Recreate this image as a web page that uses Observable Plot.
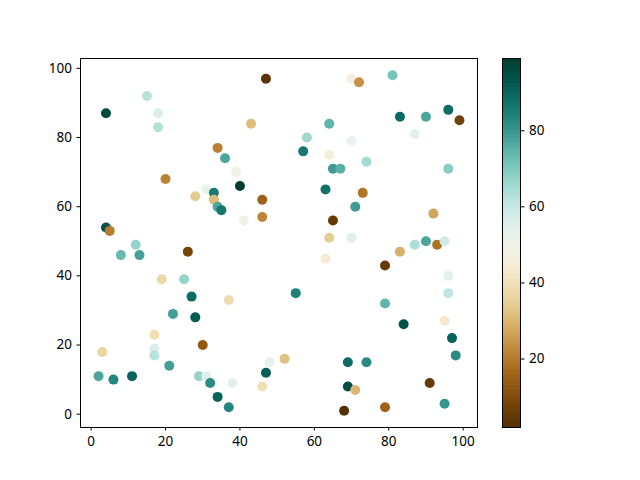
<!DOCTYPE html>
<html><head><meta charset="utf-8">
<script src="https://cdn.jsdelivr.net/npm/d3@7"></script>
<script src="https://cdn.jsdelivr.net/npm/@observablehq/plot@0.6"></script>
<style>
body{margin:0;background:#fff;}
#wrap{position:relative;width:640px;height:480px;}
#wrap svg{position:absolute;left:0;top:0;}
</style></head><body><div id="wrap"></div>
<script>
const xs=[4,15,18,18,47,43,34,36,39,20,40,31,33,28,33,34,35,46,46,41,4,5,12,8,13,26,19,25,27,37,22,28,17,17,17,30,21,2,6,11,3,29,31,32,34,37,38,46,47,48,52,55,70,72,81,64,58,57,70,64,65,67,74,83,90,96,99,87,96,63,73,71,65,64,63,70,79,83,87,90,93,95,92,96,96,79,84,95,97,98,69,74,69,71,68,79,91,95];
const ys=[87,92,87,83,97,84,77,74,70,68,66,65,64,63,62,60,59,62,57,56,54,53,49,46,46,47,39,39,34,33,29,28,23,19,17,20,14,11,10,11,18,11,11,9,5,2,9,8,12,15,16,35,97,96,98,84,80,76,79,75,71,71,73,86,86,88,85,81,71,65,64,60,56,51,45,51,43,47,49,50,49,50,58,40,35,32,26,27,22,17,15,15,8,7,1,2,9,3];
const cs=[96,62,56,63,3,31,21,77,50,21,99,52,85,34,31,77,86,15,22,49,94,20,67,73,78,8,37,67,88,38,78,92,39,56,62,13,78,77,83,90,36,67,54,82,90,83,54,39,91,53,32,84,46,24,71,74,66,86,52,46,79,75,65,89,77,88,7,54,69,87,19,79,5,34,44,54,5,29,64,77,18,58,27,53,61,74,94,43,90,82,88,82,95,30,2,15,5,80];
const xTicks=[0,20,40,60,80,100];
const yTicks=[0,20,40,60,80,100];
const cTicks=[20,40,60,80];

const points=xs.map((x,i)=>({x,y:ys[i],c:cs[i]}));
const pad=(e)=>{const m=(e[1]-e[0])*0.05;return [e[0]-m,e[1]+m];};
const xDomain=pad(d3.extent(xs)), yDomain=pad(d3.extent(ys));
const cDomain=d3.extent(cs);
const font='"Noto Sans", "DejaVu Sans", sans-serif';
const M={top:58,bottom:53};

const main=Plot.plot({
  width:640,height:480,marginLeft:80,marginRight:163,marginTop:M.top,marginBottom:M.bottom,
  style:{fontFamily:font,fontSize:"13.5px",background:"transparent",color:"#000"},
  x:{domain:xDomain,ticks:xTicks,tickSize:3.5,tickPadding:5,label:null,tickFormat:d=>String(d)},
  y:{domain:yDomain,ticks:yTicks,tickSize:3.5,tickPadding:5,label:null,tickFormat:d=>String(d)},
  color:{type:"linear",scheme:"BrBG",domain:cDomain},
  marks:[
    Plot.dot(points,{x:"x",y:"y",fill:"c",r:5,stroke:"none"}),
    Plot.frame({stroke:"#000",strokeWidth:1})
  ]
});

const steps=d3.range(300).map(i=>cDomain[0]+(cDomain[1]-cDomain[0])*i/300);
const stepH=(cDomain[1]-cDomain[0])/300;
const bar=Plot.plot({
  width:640,height:480,marginLeft:502,marginRight:120,marginTop:M.top,marginBottom:M.bottom,
  style:{fontFamily:font,fontSize:"13.5px",background:"transparent",color:"#000"},
  x:{domain:[0,1],axis:null},
  y:{domain:cDomain,axis:"right",ticks:cTicks,tickSize:3.5,tickPadding:5,label:null,tickFormat:d=>String(d)},
  color:{type:"linear",scheme:"BrBG",domain:cDomain},
  marks:[
    Plot.rect(steps,{x1:0,x2:1,y1:d=>d,y2:d=>Math.min(d+stepH*1.6,cDomain[1]),fill:d=>d,inset:0}),
    Plot.frame({stroke:"#000",strokeWidth:1})
  ]
});
const wrap=document.getElementById("wrap");
wrap.appendChild(main);
wrap.appendChild(bar);
</script></body></html>
